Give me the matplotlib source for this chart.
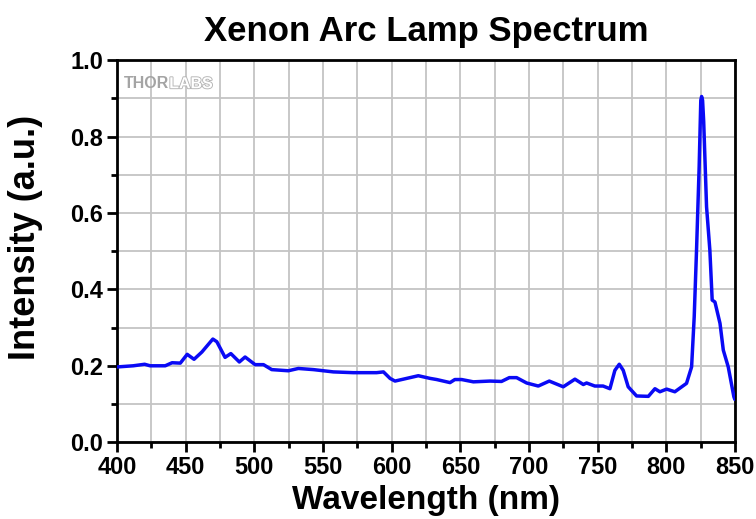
import matplotlib
matplotlib.use("Agg")
import matplotlib.pyplot as plt
import matplotlib.patheffects as pe
from matplotlib.ticker import MultipleLocator

# Xenon arc lamp emission, normalised intensity vs wavelength
wavelength_nm = [
    400, 411.7, 420, 424, 435, 440, 446, 451, 456, 461.7, 469.7, 472.6,
    478.6, 482.8, 489, 493.2, 500.5, 506.6, 512.6, 524.7, 532, 543, 557.5,
    572, 589, 594, 598.8, 602.4, 608.5, 619.4, 628, 632.8, 642.5, 646, 651,
    659.5, 671.6, 680, 685.7, 691, 698.3, 706.8, 714.8, 725, 733.5, 739.6,
    742, 748, 754, 759, 762.6, 765.8, 768.7, 772.3, 778.4, 787, 791.8,
    795.4, 800.3, 806.3, 814.8, 818.5, 820.4, 822.1, 824, 825.2, 825.8, 826.5,
    827.3, 829.4, 831.8, 833.5, 835.5, 839.2, 841.6, 845.2, 849.3, 850,
]
intensity = [
    0.197, 0.200, 0.204, 0.200, 0.200, 0.208, 0.207, 0.230, 0.217, 0.236,
    0.270, 0.263, 0.222, 0.232, 0.210, 0.223, 0.203, 0.203, 0.190, 0.187,
    0.193, 0.190, 0.184, 0.182, 0.182, 0.184, 0.167, 0.160, 0.165, 0.174,
    0.167, 0.164, 0.156, 0.164, 0.164, 0.158, 0.160, 0.159, 0.169, 0.169,
    0.155, 0.147, 0.160, 0.145, 0.165, 0.151, 0.155, 0.147, 0.147, 0.140,
    0.188, 0.204, 0.188, 0.145, 0.121, 0.120, 0.140, 0.132, 0.139, 0.132,
    0.154, 0.197, 0.328, 0.503, 0.720, 0.895, 0.905, 0.895, 0.840, 0.616,
    0.503, 0.372, 0.367, 0.311, 0.241, 0.197, 0.119, 0.112,
]

plt.rcParams["font.family"] = ["Liberation Sans", "DejaVu Sans"]
plt.rcParams["font.weight"] = "bold"

fig = plt.figure(figsize=(7.56, 5.19), dpi=100)
ax = fig.add_axes([0.155, 0.148, 0.817, 0.736])

ax.plot(wavelength_nm, intensity, color="#0a0af5", lw=2.5,
        solid_joinstyle="round", solid_capstyle="round", zorder=3)

ax.set_xlim(400, 850)
ax.set_ylim(0, 1.0)
ax.xaxis.set_major_locator(MultipleLocator(50))
ax.xaxis.set_minor_locator(MultipleLocator(25))
ax.yaxis.set_major_locator(MultipleLocator(0.2))
ax.yaxis.set_minor_locator(MultipleLocator(0.1))
ax.yaxis.set_major_formatter(lambda v, _: f"{v:.1f}")

ax.grid(which="both", color="#c4c4c4", lw=1.3, zorder=0)
ax.set_axisbelow(True)

for side in ax.spines.values():
    side.set_linewidth(2)
ax.tick_params(which="major", direction="out", length=7, width=2,
               labelsize=17, pad=3)
ax.tick_params(which="minor", direction="out", length=4, width=2)
ax.tick_params(top=False, right=False, which="both")

ax.set_title("Xenon Arc Lamp Spectrum", fontsize=25, fontweight="bold", pad=14)
ax.set_xlabel("Wavelength (nm)", fontsize=24, fontweight="bold")
ax.set_ylabel("Intensity (a.u.)", fontsize=26, fontweight="bold")
ax.xaxis.set_label_coords(0.5, -0.113)
ax.yaxis.set_label_coords(-0.12, 0.537)

# faint logo in the top-left corner
thor = ax.text(0.011, 0.958, "THOR", transform=ax.transAxes, fontsize=11.5,
               fontweight="heavy", color="#a4a4a4", va="top", ha="left")
ax.annotate("LABS", xy=(1, 0), xycoords=thor, fontsize=11.5,
            fontweight="heavy", color="white", va="bottom", ha="left",
            path_effects=[pe.withStroke(linewidth=1.3, foreground="#b4b4b4")])

fig.savefig("out.png", dpi=100)
